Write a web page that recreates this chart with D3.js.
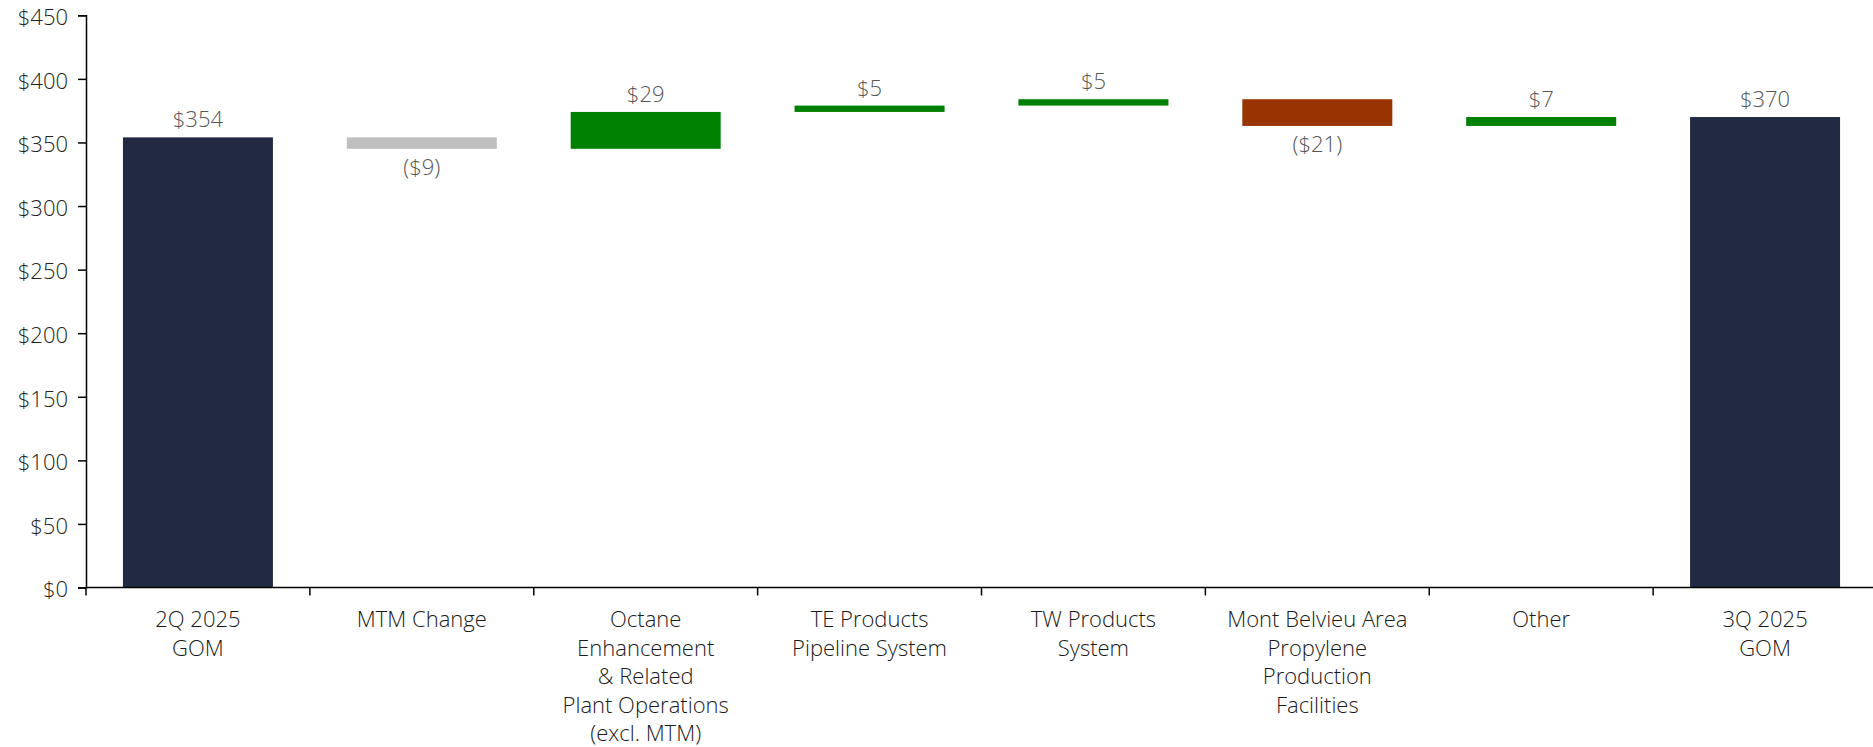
<!DOCTYPE html>
<html>
<head>
<meta charset="utf-8">
<script src="https://cdn.jsdelivr.net/npm/d3@7"></script>
<style>
  html, body { margin: 0; padding: 0; background: #fff; }
  svg { display: block; font-family: "Open Sans", "Noto Sans", sans-serif; font-weight: 300; }
</style>
</head>
<body>
<svg id="chart" width="1873" height="747"></svg>
<script>
// ---- data ----
const categories = [
  ["2Q 2025", "GOM"],
  ["MTM Change"],
  ["Octane", "Enhancement", "& Related", "Plant Operations", "(excl. MTM)"],
  ["TE Products", "Pipeline System"],
  ["TW Products", "System"],
  ["Mont Belvieu Area", "Propylene", "Production", "Facilities"],
  ["Other"],
  ["3Q 2025", "GOM"]
];
const values = [354, -9, 29, 5, 5, -21, 7, 370];
const kinds = ["total", "mtm", "up", "up", "up", "down", "up", "total"];
const valueLabels = ["$354", "($9)", "$29", "$5", "$5", "($21)", "$7", "$370"];
const yTicks = [0, 50, 100, 150, 200, 250, 300, 350, 400, 450];
const yTickLabels = ["$0", "$50", "$100", "$150", "$200", "$250", "$300", "$350", "$400", "$450"];

// ---- derive waterfall extents ----
let running = 0;
const bars = values.map((v, i) => {
  let lo, hi;
  if (kinds[i] === "total") { lo = 0; hi = v; running = v; }
  else { const s = running; running = s + v; lo = Math.min(s, running); hi = Math.max(s, running); }
  return { i, v, lo, hi, kind: kinds[i], label: valueLabels[i] };
});

const colors = { total: "#222a42", mtm: "#bfbfbf", up: "#008000", down: "#993300" };

const svg = d3.select("#chart");
const x0 = 86, x1 = 1877, yTop = 15.3, yBot = 587.5;

const x = d3.scaleBand()
  .domain(d3.range(categories.length))
  .range([x0, x1])
  .paddingInner(0.33)
  .paddingOuter(0.165);
const step = x.step();

const y = d3.scaleLinear().domain([0, 450]).range([yBot, yTop]);

// bars
svg.append("g").selectAll("rect").data(bars).join("rect")
  .attr("x", d => x(d.i))
  .attr("width", x.bandwidth())
  .attr("y", d => y(d.hi))
  .attr("height", d => y(d.lo) - y(d.hi))
  .attr("fill", d => colors[d.kind]);

// value labels
svg.append("g").selectAll("text").data(bars).join("text")
  .attr("x", d => x(d.i) + x.bandwidth() / 2)
  .attr("y", d => d.v < 0 ? y(d.lo) + 26 : y(d.hi) - 10)
  .attr("text-anchor", "middle")
  .attr("font-size", 22)
  .attr("fill", "#555")
  .text(d => d.label);

// y axis
const yAxis = d3.axisLeft(y)
  .tickValues(yTicks)
  .tickFormat((d, i) => yTickLabels[i])
  .tickSize(8)
  .tickPadding(10);
const gy = svg.append("g").attr("transform", `translate(${x0},0)`).call(yAxis);
gy.select(".domain").attr("stroke", "#000").attr("stroke-width", 1.5);
gy.selectAll(".tick line").attr("stroke", "#000").attr("stroke-width", 1.5);
gy.selectAll(".tick text")
  .attr("font-size", 22)
  .attr("font-family", "\"Open Sans\", \"Noto Sans\", sans-serif")
  .attr("font-weight", 300)
  .attr("fill", "#222")
  .attr("dy", "0.42em");

// x axis line
svg.append("line")
  .attr("x1", x0).attr("x2", 1873)
  .attr("y1", y(0)).attr("y2", y(0))
  .attr("stroke", "#000").attr("stroke-width", 1.5);

// x ticks at band boundaries
const boundaries = d3.range(categories.length).map(i => x(i) - step * 0.165);
svg.append("g").selectAll("line").data(boundaries).join("line")
  .attr("x1", d => d).attr("x2", d => d)
  .attr("y1", y(0)).attr("y2", y(0) + 8)
  .attr("stroke", "#000").attr("stroke-width", 1.5);

// category labels
const catG = svg.append("g").selectAll("text").data(categories).join("text")
  .attr("text-anchor", "middle")
  .attr("font-size", 22)
  .attr("fill", "#1a1a1a")
  .attr("transform", (d, i) => `translate(${x(i) + x.bandwidth() / 2},627)`);
catG.selectAll("tspan").data(d => d).join("tspan")
  .attr("x", 0)
  .attr("y", (d, j) => j * 28.6)
  .text(d => d);
</script>
</body>
</html>
